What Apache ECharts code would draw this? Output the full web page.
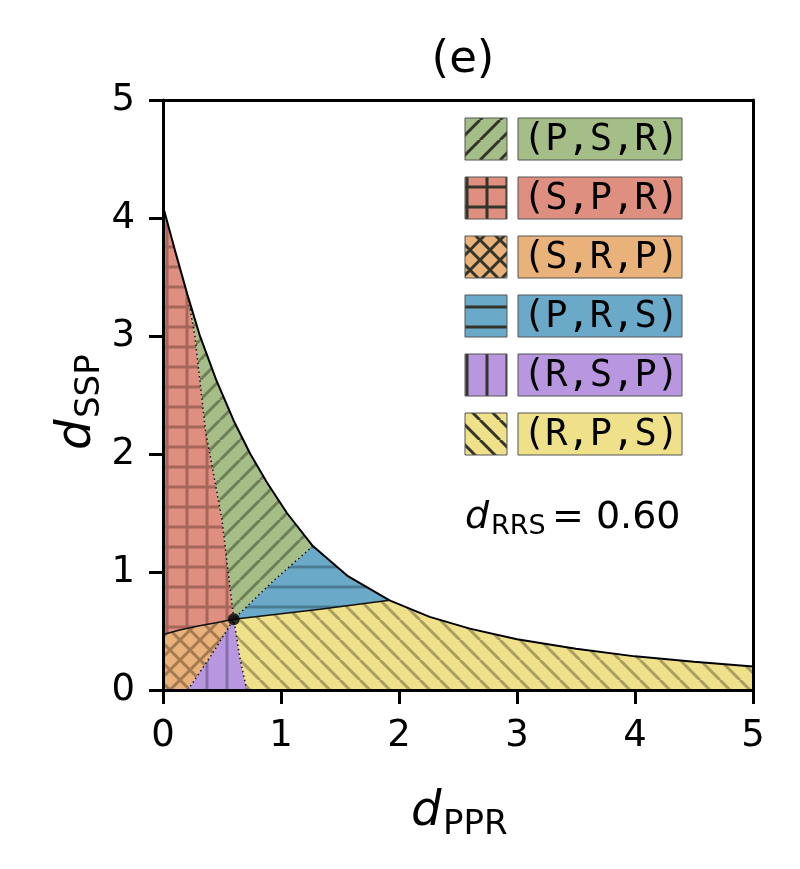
<!DOCTYPE html>
<html>
<head>
<meta charset="utf-8">
<script src="https://cdn.jsdelivr.net/npm/echarts@6/dist/echarts.min.js"></script>
<style>
html, body { margin: 0; padding: 0; background: #fff; }
#chart { width: 800px; height: 869px; }
</style>
</head>
<body>
<div id="chart"></div>
<script>
// upper boundary curve
var curveX = [0, 0.1, 0.21, 0.31, 0.45, 0.6, 0.74, 0.88, 1.05, 1.27, 1.56, 1.92, 2.26, 2.6, 3.0, 3.5, 4.0, 4.5, 5.0];
var curveY = [4.1, 3.73, 3.34, 3.01, 2.63, 2.28, 2.0, 1.76, 1.5, 1.22, 0.97, 0.76, 0.62, 0.52, 0.43, 0.35, 0.285, 0.24, 0.2];
// where the inner borders hit the curve (index into curveX)
var meetRedGreen = 2, meetGreenBlue = 9, meetBlueYellow = 11;

var centre = [0.6, 0.6];
// inner borders, each from its outer end to the centre point
var borderRedOrange = [[0, 0.47], [0.15, 0.51], [0.31, 0.545], [0.45, 0.57], [0.6, 0.6]];
var borderOrangePurple = [[0.21, 0], [0.40, 0.28], [0.6, 0.6]];
var borderPurpleYellow = [[0.71, 0], [0.65, 0.28], [0.6, 0.6]];
var borderYellowBlue = [[1.92, 0.76], [1.33, 0.685], [0.6, 0.6]];
var borderBlueGreen = [[1.27, 1.22], [0.93, 0.92], [0.6, 0.6]];
var borderGreenRed = [[0.21, 3.34], [0.27, 3.0], [0.36, 2.2], [0.5, 1.44], [0.55, 1.02], [0.6, 0.6]];

var orderNames = ['(P,S,R)', '(S,P,R)', '(S,R,P)', '(P,R,S)', '(R,S,P)', '(R,P,S)'];
var fillColors = ['#a5be87', '#df8f80', '#e9b27b', '#6aa9c7', '#b897e0', '#efe08a'];
var hatchColors = ['#6c7f56', '#a6665a', '#a47a50', '#4b7c93', '#886ea8', '#a89e60'];
var hatchKinds = ['/', '+', 'x', '-', '|', '\\'];

var axisTicks = [0, 1, 2, 3, 4, 5];
var dRRS = '0.60';

function makeHatch(kind, bg, fg) {
    var size = 20, lw = 3, off = 7;
    var c = document.createElement('canvas');
    c.width = size; c.height = size;
    var g = c.getContext('2d');
    g.fillStyle = bg;
    g.fillRect(0, 0, size, size);
    g.strokeStyle = fg;
    g.lineWidth = lw;
    g.beginPath();
    for (var k = -1; k <= 1; k++) {
        if (kind == '/' || kind == 'x') {
            g.moveTo(k * size, size); g.lineTo(k * size + size, 0);
        }
        if (kind == '\\' || kind == 'x') {
            g.moveTo(k * size, 0); g.lineTo(k * size + size, size);
        }
    }
    if (kind == '-' || kind == '+') { g.moveTo(0, off); g.lineTo(size, off); }
    if (kind == '|' || kind == '+') { g.moveTo(off, 0); g.lineTo(off, size); }
    g.stroke();
    return { image: c, repeat: 'repeat' };
}

function curvePart(i0, i1) {
    var out = [];
    var step = i1 >= i0 ? 1 : -1;
    for (var i = i0; i != i1 + step; i += step) out.push([curveX[i], curveY[i]]);
    return out;
}
function rev(a) { return a.slice().reverse(); }

var last = curveX.length - 1;
var regions = [
    // (P,S,R) green
    rev(borderGreenRed).concat(curvePart(meetRedGreen, meetGreenBlue), borderBlueGreen),
    // (S,P,R) red
    rev(borderGreenRed).concat(curvePart(meetRedGreen, 0), borderRedOrange),
    // (S,R,P) orange
    rev(borderOrangePurple).concat([[0, 0]], borderRedOrange),
    // (P,R,S) blue
    rev(borderBlueGreen).concat(curvePart(meetGreenBlue, meetBlueYellow), borderYellowBlue),
    // (R,S,P) purple
    rev(borderPurpleYellow).concat(borderOrangePurple),
    // (R,P,S) yellow
    rev(borderYellowBlue).concat(curvePart(meetBlueYellow, last), [[5, 0]], borderPurpleYellow)
];

var plotFills = orderNames.map(function (n, i) { return makeHatch(hatchKinds[i], fillColors[i], hatchColors[i]); });
var legendFills = orderNames.map(function (n, i) { return makeHatch(hatchKinds[i], fillColors[i], '#33352a'); });

var chart = echarts.init(document.getElementById('chart'));

var axisCommon = {
    type: 'value', min: 0, max: 5, interval: 1, z: 5,
    splitLine: { show: false },
    axisLine: { show: true, lineStyle: { color: '#000', width: 3 } },
    axisTick: { show: true, inside: false, length: 14, lineStyle: { color: '#000', width: 3 } },
    axisLabel: {
        show: true, fontSize: 37, fontFamily: 'DejaVu Sans', color: '#000', margin: 28,
        formatter: function (v) { return axisTicks.indexOf(v) >= 0 ? String(v) : ''; }
    }
};
var spine = {
    type: 'value', min: 0, max: 5, z: 5,
    splitLine: { show: false }, axisTick: { show: false }, axisLabel: { show: false },
    axisLine: { show: true, onZero: false, lineStyle: { color: '#000', width: 3 } }
};

var legendItems = [];
orderNames.forEach(function (name, i) {
    var top = 118 + i * 59;
    legendItems.push({
        type: 'rect', shape: { x: 465, y: top, width: 42, height: 42 },
        style: { fill: legendFills[i], stroke: '#555', lineWidth: 1 }
    });
    legendItems.push({
        type: 'rect', shape: { x: 518, y: top, width: 164, height: 42 },
        style: { fill: fillColors[i], stroke: '#555', lineWidth: 1 }
    });
    legendItems.push({
        type: 'text', x: 601, y: top + 22,
        style: { text: name, fontSize: 37, fontFamily: 'DejaVu Sans Mono', fill: '#000', align: 'center', verticalAlign: 'middle' }
    });
});

var labels = [
    // d_RRS = 0.60
    { type: 'text', x: 465, y: 518, style: { text: 'd', fontSize: 38, fontStyle: 'italic', fontFamily: 'DejaVu Sans', fill: '#000', verticalAlign: 'middle' } },
    { type: 'text', x: 491, y: 527, style: { text: 'RRS', fontSize: 27, fontFamily: 'DejaVu Sans', fill: '#000', verticalAlign: 'middle' } },
    { type: 'text', x: 552, y: 518, style: { text: '= ' + dRRS, fontSize: 38, fontFamily: 'DejaVu Sans', fill: '#000', verticalAlign: 'middle' } },
    // x axis title
    { type: 'text', x: 411, y: 813, style: { text: 'd', fontSize: 48, fontStyle: 'italic', fontFamily: 'DejaVu Sans', fill: '#000', verticalAlign: 'middle' } },
    { type: 'text', x: 443, y: 825, style: { text: 'PPR', fontSize: 34, fontFamily: 'DejaVu Sans', fill: '#000', verticalAlign: 'middle' } },
    // y axis title, turned
    {
        type: 'group', x: 78, y: 400, rotation: Math.PI / 2,
        children: [
            { type: 'text', x: -50, y: 0, style: { text: 'd', fontSize: 48, fontStyle: 'italic', fontFamily: 'DejaVu Sans', fill: '#000', verticalAlign: 'middle' } },
            { type: 'text', x: -18, y: 12, style: { text: 'SSP', fontSize: 34, fontFamily: 'DejaVu Sans', fill: '#000', verticalAlign: 'middle' } }
        ]
    }
];

var option = {
    animation: false,
    backgroundColor: '#fff',
    title: {
        text: '(e)', left: 458, top: 33, textAlign: 'center',
        textStyle: { fontSize: 45, fontWeight: 'normal', fontFamily: 'DejaVu Sans', color: '#000' }
    },
    grid: { left: 163, top: 100, width: 590, height: 590 },
    xAxis: [axisCommon, Object.assign({}, spine, { position: 'top' })],
    yAxis: [axisCommon, Object.assign({}, spine, { position: 'right' })],
    series: [
        {
            type: 'custom', name: 'regions', z: 2, clip: true,
            data: orderNames.map(function (n, i) { return [i, i]; }),
            renderItem: function (params, api) {
                var pts = regions[params.dataIndex].map(function (p) { return api.coord(p); });
                return { type: 'polygon', shape: { points: pts }, style: { fill: plotFills[params.dataIndex], stroke: 'none' } };
            }
        },
        {
            type: 'line', z: 3, symbol: 'none', silent: true,
            data: curveX.map(function (x, i) { return [x, curveY[i]]; }),
            lineStyle: { color: '#000', width: 2 }
        },
        { type: 'line', z: 3, symbol: 'none', silent: true, data: borderRedOrange, lineStyle: { color: '#111', width: 1.5 } },
        { type: 'line', z: 3, symbol: 'none', silent: true, data: borderYellowBlue, lineStyle: { color: '#111', width: 1.5 } },
        { type: 'line', z: 3, symbol: 'none', silent: true, data: borderOrangePurple, lineStyle: { color: '#111', width: 1.5, type: [1.5, 3] } },
        { type: 'line', z: 3, symbol: 'none', silent: true, data: borderPurpleYellow, lineStyle: { color: '#111', width: 1.5, type: [1.5, 3] } },
        { type: 'line', z: 3, symbol: 'none', silent: true, data: borderBlueGreen, lineStyle: { color: '#111', width: 1.5, type: [1.5, 3] } },
        { type: 'line', z: 3, symbol: 'none', silent: true, data: borderGreenRed, lineStyle: { color: '#111', width: 1.5, type: [1.5, 3] } },
        {
            type: 'scatter', z: 4, symbol: 'circle', symbolSize: 12, silent: true,
            data: [centre], itemStyle: { color: '#000' }
        }
    ],
    graphic: legendItems.concat(labels)
};
chart.setOption(option);
</script>
</body>
</html>
